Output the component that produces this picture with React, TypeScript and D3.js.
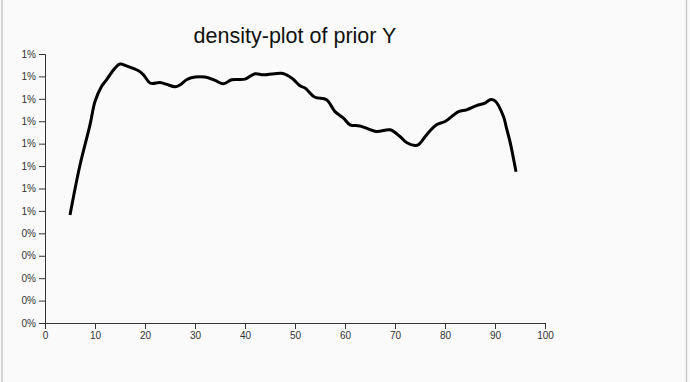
import React, { useEffect, useRef } from "react";
import * as d3 from "d3";

const xValues = [5, 7, 9, 10, 11.3, 12.3, 14, 15, 16.3, 18.7, 19.7, 21.1, 23, 24.3, 26, 27, 28.3, 30, 32, 34, 35.7, 37.3, 40, 42, 43.7, 47.3, 48.3, 49.5, 51, 52, 54, 56.3, 58, 59.7, 61, 63, 66.3, 69, 71, 72.3, 74, 74.7, 76.3, 78.3, 80, 82.7, 84.3, 86.3, 88, 89, 90, 91.7, 92.3, 93, 94.2];
const densityValues = [0.00482, 0.00705, 0.00884, 0.00988, 0.01055, 0.01085, 0.01137, 0.01155, 0.01147, 0.01125, 0.01107, 0.0107, 0.01073, 0.01065, 0.01054, 0.01062, 0.01085, 0.01097, 0.01097, 0.01082, 0.01067, 0.01085, 0.01088, 0.01112, 0.01107, 0.01114, 0.01107, 0.0109, 0.01058, 0.01048, 0.01007, 0.00996, 0.00943, 0.00914, 0.00884, 0.00879, 0.00854, 0.00862, 0.00832, 0.00805, 0.00792, 0.00795, 0.00839, 0.00884, 0.00899, 0.00943, 0.00951, 0.0097, 0.00981, 0.00996, 0.00991, 0.00921, 0.00869, 0.00809, 0.00675];
const yTicks = [0, 0.001, 0.002, 0.003, 0.004, 0.005, 0.006, 0.007, 0.008, 0.009, 0.01, 0.011, 0.012];
const xTicks = [0, 10, 20, 30, 40, 50, 60, 70, 80, 90, 100];
const title = "density-plot of prior Y";

export default function App() {
  const gx = useRef<SVGGElement>(null);
  const gy = useRef<SVGGElement>(null);
  const W = 690, H = 382;
  const m = { left: 45, top: 54, right: 145, bottom: 59 };
  const x = d3.scaleLinear().domain([0, 100]).range([m.left, W - m.right]);
  const y = d3.scaleLinear().domain([0, 0.012]).range([H - m.bottom, m.top]);
  const pts = xValues.map((v, i) => [v, densityValues[i]] as [number, number]);
  const line = d3
    .line<[number, number]>()
    .x((d) => x(d[0]))
    .y((d) => y(d[1]))
    .curve(d3.curveCatmullRom.alpha(0.5));

  useEffect(() => {
    document.body.style.margin = "0";
    const ax = d3.axisBottom(x).tickValues(xTicks).tickFormat(d3.format("d") as any);
    const ay = d3.axisLeft(y).tickValues(yTicks).tickFormat(d3.format(".0%") as any);
    const sx = d3.select(gx.current!).call(ax as any);
    const sy = d3.select(gy.current!).call(ay as any);
    [sx, sy].forEach((s) => {
      s.selectAll("text").attr("font-family", "Liberation Sans, Arial, sans-serif").attr("font-size", 10).attr("fill", "#333");
      s.selectAll("path,line").attr("stroke", "#333");
    });
  }, []);

  return (
    <div style={{ position: "absolute", left: 0, top: 0, width: W, height: H, background: "#fafafa" }}>
      <svg width={W} height={H} style={{ display: "block" }}>
        <line x1={2} x2={2} y1={0} y2={H} stroke="#c8c8c8" strokeWidth={1.5} />
        <line x1={686.5} x2={686.5} y1={0} y2={H} stroke="#c8c8c8" strokeWidth={1.5} />
        <text
          x={(m.left + W - m.right) / 2}
          y={43}
          textAnchor="middle"
          fontFamily="Liberation Sans, Arial, sans-serif"
          fontSize={21.5}
          fill="#111"
        >
          {title}
        </text>
        <g ref={gx} transform={`translate(0,${H - m.bottom})`} />
        <g ref={gy} transform={`translate(${m.left},0)`} />
        <path d={line(pts) || ""} fill="none" stroke="#000" strokeWidth={3} strokeLinejoin="round" />
      </svg>
    </div>
  );
}
